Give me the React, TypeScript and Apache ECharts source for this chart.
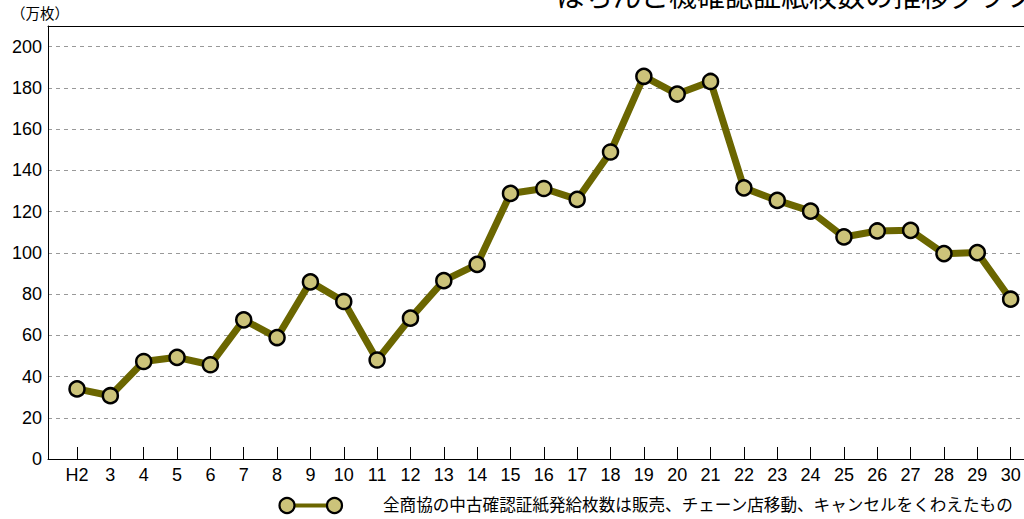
import React, { useEffect, useRef } from "react";
import * as echarts from "echarts";

const titleText = "ぱちんこ機確認証紙枚数の推移グラフ";
const unitLabel = "（万枚）";
const seriesName = "全商協の中古確認証紙発給枚数は販売、チェーン店移動、キャンセルをくわえたもの";
const categories = ["H2", "3", "4", "5", "6", "7", "8", "9", "10", "11", "12", "13", "14", "15", "16", "17", "18", "19", "20", "21", "22", "23", "24", "25", "26", "27", "28", "29", "30"];
const values = [34.0, 30.7, 47.3, 49.3, 45.7, 67.5, 58.9, 85.9, 76.4, 48.0, 68.3, 86.5, 94.4, 128.8, 131.2, 125.9, 148.9, 185.6, 177.0, 183.1, 131.5, 125.4, 120.2, 107.7, 110.6, 110.9, 99.6, 100.1, 77.5];

const LINE = "#6B6600";
const FILL = "#CCC37A";
const FONT = "'Liberation Sans', Arial, sans-serif";
const CJK = "'Noto Sans CJK JP', sans-serif";

export default function App() {
  const ref = useRef<HTMLDivElement>(null);
  useEffect(() => {
    if (!ref.current) return;
    const chart = echarts.init(ref.current, undefined, { renderer: "svg" });
    const idx = categories.map((_, i) => i);
    chart.setOption({
      animation: false,
      backgroundColor: "#fff",
      title: {
        text: titleText,
        left: 557,
        top: -19,
        padding: 0,
        textStyle: { fontSize: 28, fontWeight: "normal", color: "#000", fontFamily: CJK },
      },
      legend: {
        left: 277,
        top: 496,
        icon: "none",
        itemWidth: 101,
        itemHeight: 16,
        padding: 0,
        selectedMode: false,
        textStyle: { fontSize: 16.6, color: "#000", fontFamily: CJK },
        data: [seriesName],
      },
      grid: { left: 48, right: 0, top: 26, bottom: 60 },
      xAxis: [
        {
          type: "value",
          min: -0.87,
          max: 29.0,
          axisLine: { show: true, onZero: false, lineStyle: { color: "#000", width: 1 } },
          axisTick: { show: true, inside: true, length: 12, customValues: idx, lineStyle: { color: "#000" } },
          axisLabel: {
            customValues: idx,
            formatter: (v: number) => categories[Math.round(v)] ?? "",
            fontSize: 18,
            color: "#000",
            fontFamily: FONT,
            margin: 7,
          },
          splitLine: { show: false },
        },
        {
          type: "value",
          position: "top",
          min: -0.87,
          max: 29.0,
          z: 5,
          axisLine: { show: true, onZero: false, lineStyle: { color: "#000", width: 1 } },
          axisTick: { show: false },
          axisLabel: { show: false },
          splitLine: { show: false },
        },
      ],
      yAxis: {
        type: "value",
        min: 0,
        max: 210,
        interval: 20,
        axisLine: { show: true, onZero: false, lineStyle: { color: "#000", width: 1 } },
        axisTick: { show: false },
        axisLabel: { fontSize: 18, color: "#000", fontFamily: FONT, margin: 6, showMaxLabel: false },
        splitLine: { show: true, lineStyle: { color: "#999", type: [4, 4], width: 1 } },
      },
      graphic: [
        {
          type: "text",
          left: 11,
          top: 5,
          style: { text: unitLabel, fontSize: 14.5, fill: "#000", fontFamily: CJK },
        },
        {
          type: "line",
          shape: { x1: 287, y1: 505.5, x2: 334.5, y2: 505.5 },
          style: { stroke: LINE, lineWidth: 4 },
        },
        {
          type: "circle",
          shape: { cx: 287, cy: 505.5, r: 7.5 },
          style: { fill: FILL, stroke: "#000", lineWidth: 2.2 },
        },
        {
          type: "circle",
          shape: { cx: 334.5, cy: 505.5, r: 7.5 },
          style: { fill: FILL, stroke: "#000", lineWidth: 2.2 },
        },
      ],
      series: [
        {
          name: seriesName,
          type: "line",
          xAxisIndex: 0,
          data: values.map((v, i) => [i, v]),
          symbol: "circle",
          symbolSize: 15,
          lineStyle: { color: LINE, width: 7 },
          itemStyle: { color: FILL, borderColor: "#000", borderWidth: 2.5 },
        },
      ],
    });
    return () => chart.dispose();
  }, []);
  return (
    <div style={{ position: "fixed", left: 0, top: 0, width: 1024, height: 519, overflow: "hidden" }}>
      <div ref={ref} style={{ position: "absolute", left: 0, top: 0, width: 1044, height: 519 }} />
    </div>
  );
}
